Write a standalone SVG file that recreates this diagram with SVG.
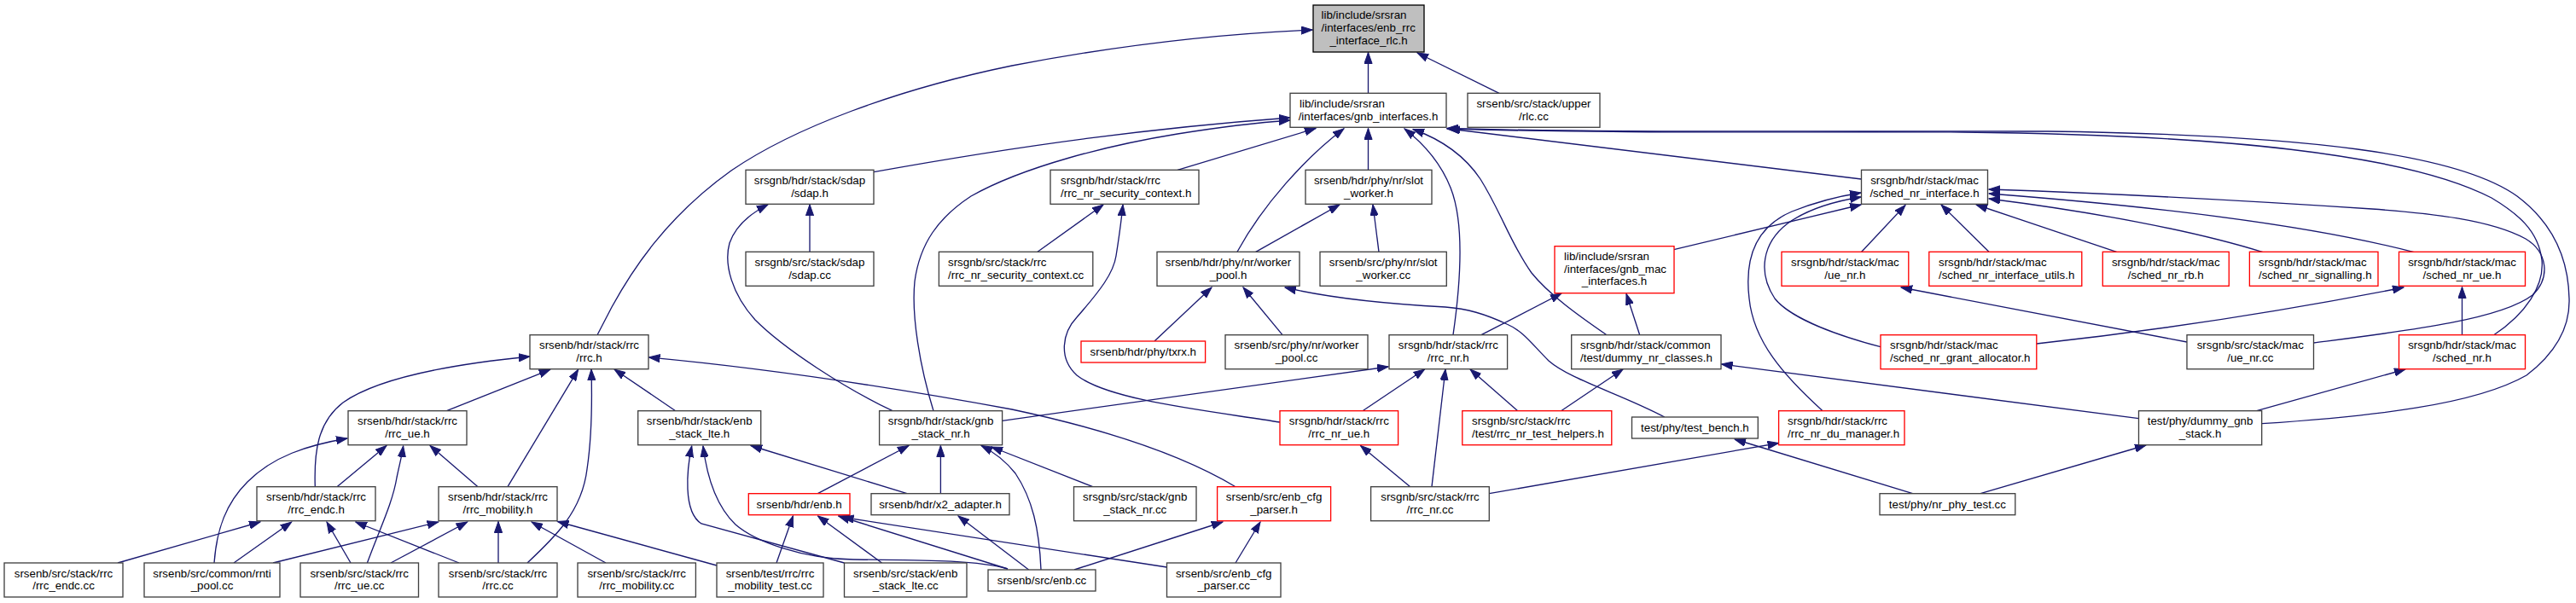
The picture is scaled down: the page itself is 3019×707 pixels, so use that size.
<svg xmlns="http://www.w3.org/2000/svg" width="3019" height="707" viewBox="0 0 3019 707">
<defs>
<style>
.b{fill:#fff;stroke:#404040;stroke-width:1.33}
.r{fill:#fff;stroke:#ff0000;stroke-width:1.33}
.root{fill:#bfbfbf;stroke:#000;stroke-width:1.33}
text{font-family:'Liberation Sans',Arial,Helvetica,sans-serif;font-size:13.33px;fill:#000}
.m{text-anchor:middle}
.e{fill:none;stroke:#191970;stroke-width:1.33;marker-end:url(#a)}
</style>
<marker id="a" markerUnits="userSpaceOnUse" markerWidth="14" markerHeight="10" refX="13" refY="5" orient="auto" viewBox="0 0 14 10">
<path d="M0,0.4 L13,5 L0,9.6 z" fill="#191970" stroke="#191970" stroke-width="1"/>
</marker>
</defs>
<rect width="3019" height="707" fill="#fff"/>
<g id="edges">
<path class="e" d="M700,392.7 L717,360 C740,318 780,255 857,200 C930,150 1050,105 1186,77 C1300,55 1420,40 1538,35"/>
<path class="e" d="M1603.5,109.3 L1603.5,61.5"/>
<path class="e" d="M1757,109.3 L1661,62"/>
<path class="e" d="M1024,201.7 C1200,170 1350,150 1512,138"/>
<path class="e" d="M1094,481.7 C1078,430 1068,370 1072,330 C1078,285 1100,255 1138,230 C1200,195 1300,170 1380,157 C1430,149 1470,144 1512,141"/>
<path class="e" d="M1380,199.3 L1542,150.5"/>
<path class="e" d="M1450,295.3 C1480,240 1530,185 1575,150.8"/>
<path class="e" d="M1603.5,199.3 L1603.5,150.5"/>
<path class="e" d="M1703,392.7 C1712,330 1716,260 1700,220 C1688,190 1668,168 1646,151"/>
<path class="e" d="M1883,392.7 C1850,370 1815,345 1795,320 C1770,285 1760,250 1735,210 C1715,180 1685,162 1656,151.5"/>
<path class="e" d="M2181.5,210 L1698,151"/>
<path class="e" d="M2922.7,392.7 C2960,368 2982,335 2979,305 C2975,270 2950,250 2920,232 C2820,180 2600,158 2300,155 C2100,154 1900,157 1696,151"/>
<path class="e" d="M2650.7,496.7 C2780,488 2900,475 2961,440 C3000,410 3012,380 3011,350 C3010,300 2990,260 2950,230 C2880,180 2700,158 2400,154 C2100,153 1900,156 1696,150.5"/>
<path class="e" d="M1216,295.3 L1293,240"/>
<path class="e" d="M1500,495 C1420,482 1300,470 1262,440 C1240,420 1245,390 1262,372 C1290,340 1305,320 1308,300 C1312,275 1314,260 1316,240"/>
<path class="e" d="M949,295.3 L949,239.8"/>
<path class="e" d="M1046,481.7 C990,455 920,410 885,375 C858,345 848,310 855,285 C862,265 880,250 900,240"/>
<path class="e" d="M1597,481.7 L1669.6,433"/>
<path class="e" d="M1678,570.7 L1694,433"/>
<path class="e" d="M1778.7,481.7 L1723,433"/>
<path class="e" d="M1174.6,493.3 C1300,475 1450,455 1627,430"/>
<path class="e" d="M1736,392.7 L1830,344"/>
<path class="e" d="M1921.7,392.7 L1906,344.5"/>
<path class="e" d="M1829.6,481.7 L1902,433"/>
<path class="e" d="M2506.5,490.7 L2017.5,427"/>
<path class="e" d="M1652.7,570.7 L1594.5,522.5"/>
<path class="e" d="M1471.7,295.3 L1570,240"/>
<path class="e" d="M1353,400 L1420,337"/>
<path class="e" d="M1503,392.7 L1457,337"/>
<path class="e" d="M1950.8,489 C1900,462 1840,445 1815,423 C1795,403 1785,388 1766,380 C1740,368 1720,362 1694,360 C1620,356 1560,350 1506,337"/>
<path class="e" d="M1616,295.3 L1609,240"/>
<path class="e" d="M2181.7,295.3 L2233,240.5"/>
<path class="e" d="M2331,295.3 L2275,240"/>
<path class="e" d="M2480.5,295.3 L2316,240"/>
<path class="e" d="M2652,295.7 C2570,270 2450,248 2331,233"/>
<path class="e" d="M2829,295.7 C2700,262 2500,240 2331,227"/>
<path class="e" d="M2711.5,402 C2820,388 2930,375 2968,346 C2990,325 2985,295 2960,280 C2920,258 2850,250 2780,245 C2600,233 2450,226 2331,222"/>
<path class="e" d="M1961.7,292.7 L2181,240"/>
<path class="e" d="M2136,481.7 C2090,440 2055,400 2050,350 C2044,300 2060,265 2100,248 C2130,236 2155,230 2181,226"/>
<path class="e" d="M2204,406.7 C2160,395 2100,375 2080,350 C2060,320 2065,285 2095,262 C2120,244 2150,236 2181,231"/>
<path class="e" d="M2386.8,403 C2550,385 2700,360 2817,337"/>
<path class="e" d="M2885.5,392.7 L2885.5,336.5"/>
<path class="e" d="M2563,401 L2228,337"/>
<path class="e" d="M2644.7,481.7 L2819,433"/>
<path class="e" d="M2321,578.7 L2515,522"/>
<path class="e" d="M2241.6,578.7 L2033,515"/>
<path class="e" d="M1745.3,578.7 L2084.6,519.5"/>
<path class="e" d="M958.4,578.7 L1065,522.5"/>
<path class="e" d="M1102.4,578.7 L1102.4,522.5"/>
<path class="e" d="M1220,668 C1218,620 1210,585 1190,555 C1178,540 1165,530 1150,522.5"/>
<path class="e" d="M1280.7,570.7 L1162,524"/>
<path class="e" d="M1448,570.7 C1380,530 1280,500 1186,480 C1050,455 900,432 760.5,419"/>
<path class="e" d="M1259,668 L1433,612"/>
<path class="e" d="M1448,660 L1477,612"/>
<path class="e" d="M791.7,481.7 L720,433"/>
<path class="e" d="M1063,578.7 L880,522.5"/>
<path class="e" d="M989.5,660 L822,614 C800,600 805,550 810.7,523"/>
<path class="e" d="M1181,667 C1140,655 1060,657 1000,656 C940,655 885,635 862,615 C838,592 828,555 824,523"/>
<path class="e" d="M910,660 L929.4,605"/>
<path class="e" d="M1033.5,660 L958.4,605"/>
<path class="e" d="M1181,667 L982.6,605"/>
<path class="e" d="M1367.5,665 L987.5,606.5"/>
<path class="e" d="M1205.6,668 L1123,605"/>
<path class="e" d="M523.5,481.7 L644.7,433.3"/>
<path class="e" d="M369.3,570.7 C368,530 372,495 402,472 C440,445 520,428 621,418"/>
<path class="e" d="M595,570.7 L677.6,433.3"/>
<path class="e" d="M618,660 C650,630 682,600 688,550 C694,510 694,470 693,433"/>
<path class="e" d="M395,570.7 L453,522.5"/>
<path class="e" d="M560,570.7 L504,522.5"/>
<path class="e" d="M430.4,660 C445,620 460,590 465,560 C468,545 471,535 472.6,523"/>
<path class="e" d="M251,660 C254,620 265,590 290,565 C320,535 360,522 407,514"/>
<path class="e" d="M138,660 L305,612"/>
<path class="e" d="M274,660 L341.7,612"/>
<path class="e" d="M411,660 L383,612"/>
<path class="e" d="M538,660 L416.8,612"/>
<path class="e" d="M320,660 L513.7,612"/>
<path class="e" d="M458,660 L547.7,612"/>
<path class="e" d="M584,660 L584,611.5"/>
<path class="e" d="M710,660 L623,612"/>
<path class="e" d="M840,663 L653.5,611.5"/>
</g>
<g id="n1"><rect class="root" x="1539" y="6" width="130" height="55"/><text x="1548.5" y="22.3">lib/include/srsran</text><text x="1548.5" y="37">/interfaces/enb_rrc</text><text class="m" x="1604" y="51.7">_interface_rlc.h</text></g>
<g id="n2"><rect class="b" x="1512" y="109.3" width="183" height="40"/><text x="1523" y="125.8">lib/include/srsran</text><text class="m" x="1603.5" y="140.5">/interfaces/gnb_interfaces.h</text></g>
<g id="n3"><rect class="b" x="1720" y="109.3" width="155" height="40"/><text class="m" x="1797.5" y="125.8">srsenb/src/stack/upper</text><text class="m" x="1797.5" y="140.5">/rlc.cc</text></g>
<g id="n4"><rect class="b" x="874" y="199.3" width="150" height="40"/><text class="m" x="949" y="215.8">srsgnb/hdr/stack/sdap</text><text class="m" x="949" y="230.5">/sdap.h</text></g>
<g id="n5"><rect class="b" x="1231" y="199.3" width="174" height="40"/><text x="1243" y="215.8">srsgnb/hdr/stack/rrc</text><text x="1243" y="230.5">/rrc_nr_security_context.h</text></g>
<g id="n6"><rect class="b" x="1530" y="199.3" width="148" height="40"/><text class="m" x="1604" y="215.8">srsenb/hdr/phy/nr/slot</text><text class="m" x="1604" y="230.5">_worker.h</text></g>
<g id="n7"><rect class="b" x="2181.5" y="199.3" width="148" height="40"/><text class="m" x="2255.5" y="215.8">srsgnb/hdr/stack/mac</text><text class="m" x="2255.5" y="230.5">/sched_nr_interface.h</text></g>
<g id="n8"><rect class="b" x="874" y="295.3" width="150" height="40"/><text class="m" x="949" y="311.8">srsgnb/src/stack/sdap</text><text class="m" x="949" y="326.5">/sdap.cc</text></g>
<g id="n9"><rect class="b" x="1100.4" y="295.3" width="180.4" height="40"/><text x="1111" y="311.8">srsgnb/src/stack/rrc</text><text x="1111" y="326.5">/rrc_nr_security_context.cc</text></g>
<g id="n10"><rect class="b" x="1356" y="295.3" width="167" height="40"/><text class="m" x="1439.5" y="311.8">srsenb/hdr/phy/nr/worker</text><text class="m" x="1439.5" y="326.5">_pool.h</text></g>
<g id="n11"><rect class="b" x="1547" y="295.3" width="148.3" height="40"/><text class="m" x="1621.2" y="311.8">srsenb/src/phy/nr/slot</text><text class="m" x="1621.2" y="326.5">_worker.cc</text></g>
<g id="n12"><rect class="r" x="1822" y="288.7" width="140" height="55"/><text x="1833" y="305">lib/include/srsran</text><text x="1833" y="319.7">/interfaces/gnb_mac</text><text class="m" x="1892" y="334.4">_interfaces.h</text></g>
<g id="n13"><rect class="r" x="2088" y="295.3" width="148.8" height="40"/><text class="m" x="2162.4" y="311.8">srsgnb/hdr/stack/mac</text><text class="m" x="2162.4" y="326.5">/ue_nr.h</text></g>
<g id="n14"><rect class="r" x="2260.8" y="295.3" width="179" height="40"/><text x="2272" y="311.8">srsgnb/hdr/stack/mac</text><text x="2272" y="326.5">/sched_nr_interface_utils.h</text></g>
<g id="n15"><rect class="r" x="2464.3" y="295.3" width="148" height="40"/><text class="m" x="2538.3" y="311.8">srsgnb/hdr/stack/mac</text><text class="m" x="2538.3" y="326.5">/sched_nr_rb.h</text></g>
<g id="n16"><rect class="r" x="2636.4" y="295.3" width="150.6" height="40"/><text x="2647" y="311.8">srsgnb/hdr/stack/mac</text><text x="2647" y="326.5">/sched_nr_signalling.h</text></g>
<g id="n17"><rect class="r" x="2811.5" y="295.3" width="148" height="40"/><text class="m" x="2885.5" y="311.8">srsgnb/hdr/stack/mac</text><text class="m" x="2885.5" y="326.5">/sched_nr_ue.h</text></g>
<g id="n18"><rect class="b" x="621" y="392.7" width="139" height="40"/><text class="m" x="690.5" y="409.2">srsenb/hdr/stack/rrc</text><text class="m" x="690.5" y="423.9">/rrc.h</text></g>
<g id="n19"><rect class="r" x="1267" y="400" width="145.6" height="25"/><text class="m" x="1339.8" y="417">srsenb/hdr/phy/txrx.h</text></g>
<g id="n20"><rect class="b" x="1436" y="392.7" width="167" height="40"/><text class="m" x="1519.5" y="409.2">srsenb/src/phy/nr/worker</text><text class="m" x="1519.5" y="423.9">_pool.cc</text></g>
<g id="n21"><rect class="b" x="1628" y="392.7" width="138.6" height="40"/><text class="m" x="1697.3" y="409.2">srsgnb/hdr/stack/rrc</text><text class="m" x="1697.3" y="423.9">/rrc_nr.h</text></g>
<g id="n22"><rect class="b" x="1841.7" y="392.7" width="175.3" height="40"/><text x="1852" y="409.2">srsgnb/hdr/stack/common</text><text x="1852" y="423.9">/test/dummy_nr_classes.h</text></g>
<g id="n23"><rect class="r" x="2204" y="392.7" width="182.8" height="40"/><text x="2215" y="409.2">srsgnb/hdr/stack/mac</text><text x="2215" y="423.9">/sched_nr_grant_allocator.h</text></g>
<g id="n24"><rect class="b" x="2563" y="392.7" width="148.5" height="40"/><text class="m" x="2637.3" y="409.2">srsgnb/src/stack/mac</text><text class="m" x="2637.3" y="423.9">/ue_nr.cc</text></g>
<g id="n25"><rect class="r" x="2811.5" y="392.7" width="148" height="40"/><text class="m" x="2885.5" y="409.2">srsgnb/hdr/stack/mac</text><text class="m" x="2885.5" y="423.9">/sched_nr.h</text></g>
<g id="n26"><rect class="b" x="408" y="481.7" width="139" height="40"/><text class="m" x="477.5" y="498.2">srsenb/hdr/stack/rrc</text><text class="m" x="477.5" y="512.9">/rrc_ue.h</text></g>
<g id="n27"><rect class="b" x="747.7" y="481.7" width="144" height="40"/><text class="m" x="819.7" y="498.2">srsenb/hdr/stack/enb</text><text class="m" x="819.7" y="512.9">_stack_lte.h</text></g>
<g id="n28"><rect class="b" x="1030.6" y="481.7" width="144" height="40"/><text class="m" x="1102.6" y="498.2">srsgnb/hdr/stack/gnb</text><text class="m" x="1102.6" y="512.9">_stack_nr.h</text></g>
<g id="n29"><rect class="r" x="1500" y="481.7" width="138.6" height="40"/><text class="m" x="1569.3" y="498.2">srsgnb/hdr/stack/rrc</text><text class="m" x="1569.3" y="512.9">/rrc_nr_ue.h</text></g>
<g id="n30"><rect class="r" x="1713.8" y="481.7" width="175" height="40"/><text x="1725" y="498.2">srsgnb/src/stack/rrc</text><text x="1725" y="512.9">/test/rrc_nr_test_helpers.h</text></g>
<g id="n31"><rect class="b" x="1912.5" y="489" width="147.8" height="25"/><text class="m" x="1986.4" y="506">test/phy/test_bench.h</text></g>
<g id="n32"><rect class="r" x="2084.6" y="481.7" width="147.4" height="40"/><text x="2095" y="498.2">srsgnb/hdr/stack/rrc</text><text x="2095" y="512.9">/rrc_nr_du_manager.h</text></g>
<g id="n33"><rect class="b" x="2506.5" y="481.7" width="144.2" height="40"/><text class="m" x="2578.6" y="498.2">test/phy/dummy_gnb</text><text class="m" x="2578.6" y="512.9">_stack.h</text></g>
<g id="n34"><rect class="b" x="301" y="570.7" width="139" height="40"/><text class="m" x="370.5" y="587.2">srsenb/hdr/stack/rrc</text><text class="m" x="370.5" y="601.9">/rrc_endc.h</text></g>
<g id="n35"><rect class="b" x="514" y="570.7" width="139" height="40"/><text class="m" x="583.5" y="587.2">srsenb/hdr/stack/rrc</text><text class="m" x="583.5" y="601.9">/rrc_mobility.h</text></g>
<g id="n36"><rect class="r" x="877.3" y="578.7" width="118.7" height="25"/><text class="m" x="936.6" y="595.7">srsenb/hdr/enb.h</text></g>
<g id="n37"><rect class="b" x="1021" y="578.7" width="162" height="25"/><text class="m" x="1102" y="595.7">srsenb/hdr/x2_adapter.h</text></g>
<g id="n38"><rect class="b" x="1258.5" y="570.7" width="143.5" height="40"/><text class="m" x="1330.2" y="587.2">srsgnb/src/stack/gnb</text><text class="m" x="1330.2" y="601.9">_stack_nr.cc</text></g>
<g id="n39"><rect class="r" x="1426.6" y="570.7" width="133" height="40"/><text class="m" x="1493.1" y="587.2">srsenb/src/enb_cfg</text><text class="m" x="1493.1" y="601.9">_parser.h</text></g>
<g id="n40"><rect class="b" x="1606.6" y="570.7" width="138.7" height="40"/><text class="m" x="1676" y="587.2">srsgnb/src/stack/rrc</text><text class="m" x="1676" y="601.9">/rrc_nr.cc</text></g>
<g id="n41"><rect class="b" x="2203" y="578.7" width="158.8" height="25"/><text class="m" x="2282.4" y="595.7">test/phy/nr_phy_test.cc</text></g>
<g id="n42"><rect class="b" x="5" y="660" width="139" height="40"/><text class="m" x="74.5" y="676.5">srsenb/src/stack/rrc</text><text class="m" x="74.5" y="691.2">/rrc_endc.cc</text></g>
<g id="n43"><rect class="b" x="169" y="660" width="159" height="40"/><text class="m" x="248.5" y="676.5">srsenb/src/common/rnti</text><text class="m" x="248.5" y="691.2">_pool.cc</text></g>
<g id="n44"><rect class="b" x="352" y="660" width="138.5" height="40"/><text class="m" x="421.2" y="676.5">srsenb/src/stack/rrc</text><text class="m" x="421.2" y="691.2">/rrc_ue.cc</text></g>
<g id="n45"><rect class="b" x="514" y="660" width="139" height="40"/><text class="m" x="583.5" y="676.5">srsenb/src/stack/rrc</text><text class="m" x="583.5" y="691.2">/rrc.cc</text></g>
<g id="n46"><rect class="b" x="677" y="660" width="138.4" height="40"/><text class="m" x="746.2" y="676.5">srsenb/src/stack/rrc</text><text class="m" x="746.2" y="691.2">/rrc_mobility.cc</text></g>
<g id="n47"><rect class="b" x="840" y="660" width="125" height="40"/><text class="m" x="902.5" y="676.5">srsenb/test/rrc/rrc</text><text class="m" x="902.5" y="691.2">_mobility_test.cc</text></g>
<g id="n48"><rect class="b" x="989.5" y="660" width="143.5" height="40"/><text class="m" x="1061.2" y="676.5">srsenb/src/stack/enb</text><text class="m" x="1061.2" y="691.2">_stack_lte.cc</text></g>
<g id="n49"><rect class="b" x="1158" y="668" width="126" height="25"/><text class="m" x="1221" y="685">srsenb/src/enb.cc</text></g>
<g id="n50"><rect class="b" x="1367.5" y="660" width="133.5" height="40"/><text class="m" x="1434.2" y="676.5">srsenb/src/enb_cfg</text><text class="m" x="1434.2" y="691.2">_parser.cc</text></g>
</svg>
